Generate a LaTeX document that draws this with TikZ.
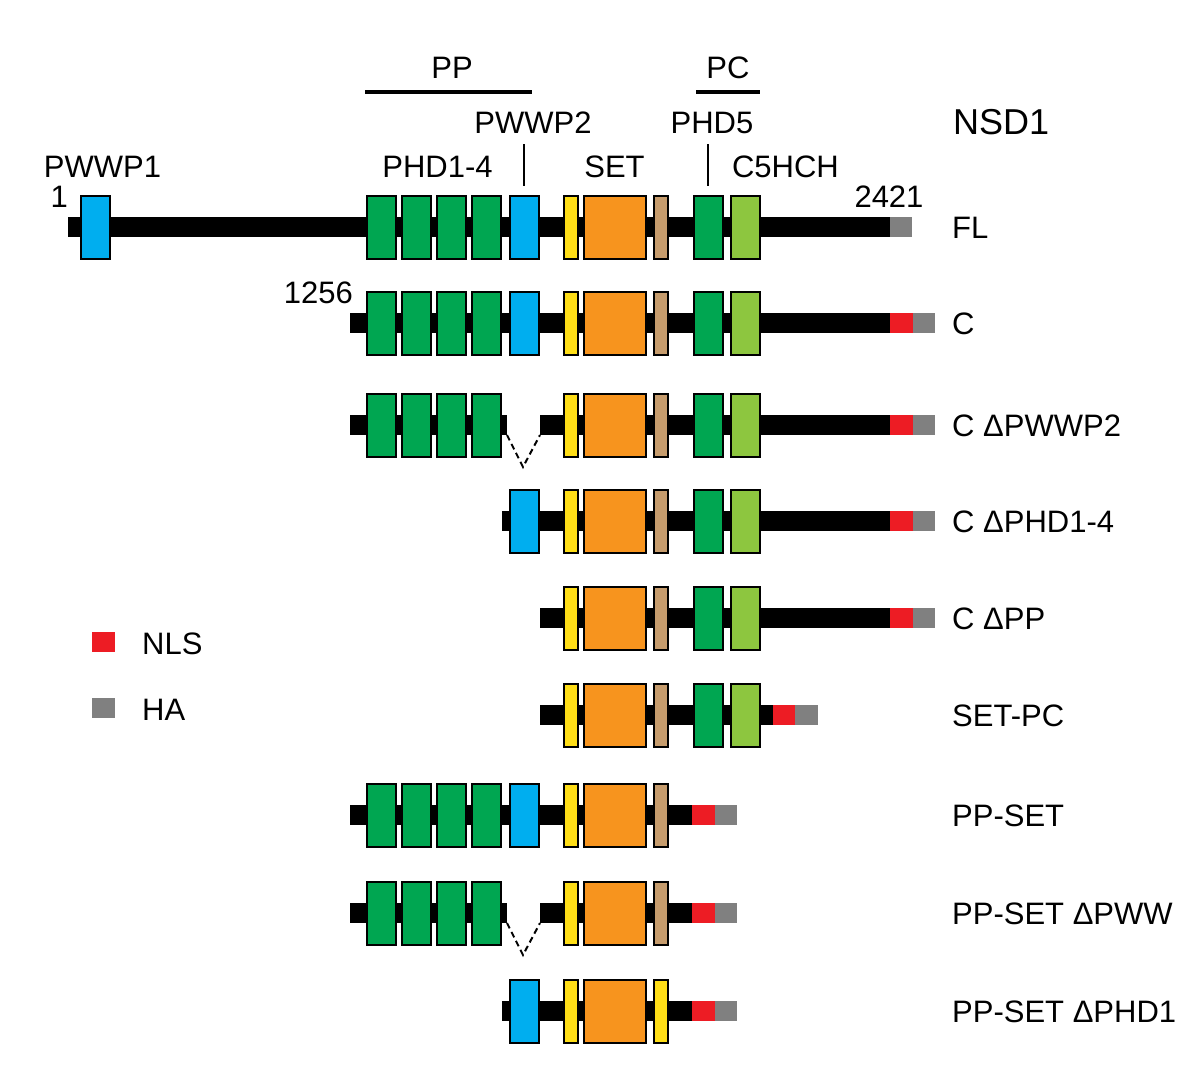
\documentclass[tikz,border=0pt]{standalone}
\usepackage{fontspec}
\setmainfont{Liberation Sans}
\usepackage{tikz}
\usetikzlibrary{positioning,backgrounds}
\usepackage{xcolor}
\definecolor{domgreen}{RGB}{0,166,81}
\definecolor{domblue}{RGB}{0,174,239}
\definecolor{domyellow}{RGB}{255,222,23}
\definecolor{domorange}{RGB}{247,148,30}
\definecolor{domtan}{RGB}{198,156,109}
\definecolor{domlime}{RGB}{141,198,63}
\definecolor{nlsred}{RGB}{237,28,36}
\definecolor{hagray}{RGB}{128,128,128}
\tikzstyle{backbone} = [line width=20pt, black]

\begin{document}
\begin{tikzpicture}[
    x=1pt, y=-1pt,
    every node/.style={font=\fontsize{31}{37}\selectfont, inner sep=0pt},
    dom/.style={rectangle, draw=black, line width=2pt, minimum width=29pt, minimum height=63pt},
    phd/.style={dom, fill=domgreen},
    pwwp/.style={dom, fill=domblue},
    aws/.style={dom, fill=domyellow, minimum width=14pt},
    setdom/.style={dom, fill=domorange, minimum width=62pt},
    postset/.style={dom, fill=domtan, minimum width=14pt},
    cfive/.style={dom, fill=domlime},
    tagbox/.style={rectangle, minimum width=22.5pt, minimum height=20pt},
    nls/.style={tagbox, fill=nlsred},
    ha/.style={tagbox, fill=hagray},
    lbl/.style={anchor=base},
    rowlabel/.style={anchor=base west},
    span/.style={line width=3pt},
    tick/.style={line width=1.5pt},
    gapline/.style={line width=2pt, dash pattern=on 6pt off 4pt}
]
\useasboundingbox (0,0) rectangle (1181,1073);

% Domain labels
\node[lbl] (pplbl) at (452,79) {PP};
\draw[span] (365,92) -- (532,92);
\node[lbl] (pclbl) at (728,79) {PC};
\draw[span] (696,92) -- (760,92);
\node[lbl] (pwwp2lbl) at (533,133) {PWWP2};
\node[lbl] (phd5lbl) at (712,133) {PHD5};
\node[rowlabel, font=\fontsize{36}{42}\selectfont] (nsd1) at (953,134) {NSD1};
\node[lbl] (pwwp1lbl) at (102.5,177) {PWWP1};
\node[lbl] (phdlbl) at (437.5,177) {PHD1-4};
\node[lbl] (setlbl) at (614.5,177) {SET};
\node[lbl] (c5hchlbl) at (785.5,177) {C5HCH};
\draw[tick] (524,144) -- (524,186);
\draw[tick] (708,144) -- (708,186);
\node[lbl, anchor=base east] (first) at (68,207) {1};
\node[lbl] (last) at (889,207) {2421};
\node[lbl, anchor=base east] (cstart) at (353,303) {1256};

% FL
\coordinate (fl-start) at (68,227);
\node[pwwp] (fl-pwwp1) at (95.5,227) {};
\node[phd] (fl-phd1) at (381,227) {};
\node[phd] (fl-phd2) at (416,227) {};
\node[phd] (fl-phd3) at (451,227) {};
\node[phd] (fl-phd4) at (486,227) {};
\node[pwwp] (fl-pwwp2) at (524.5,227) {};
\node[aws] (fl-aws) at (571,227) {};
\node[setdom] (fl-set) at (615,227) {};
\node[postset] (fl-post) at (660.5,227) {};
\node[phd] (fl-phd5) at (708,227) {};
\node[cfive] (fl-c5hch) at (745.5,227) {};
\node[ha] (fl-ha) at (901,227) {};
\node[rowlabel] (fl) at (952,238) {FL};

% C
\coordinate (c-start) at (350,323);
\node[phd] (c-phd1) at (381,323) {};
\node[phd] (c-phd2) at (416,323) {};
\node[phd] (c-phd3) at (451,323) {};
\node[phd] (c-phd4) at (486,323) {};
\node[pwwp] (c-pwwp2) at (524.5,323) {};
\node[aws] (c-aws) at (571,323) {};
\node[setdom] (c-set) at (615,323) {};
\node[postset] (c-post) at (660.5,323) {};
\node[phd] (c-phd5) at (708,323) {};
\node[cfive] (c-c5hch) at (745.5,323) {};
\node[nls] (c-nls) at (901.25,323) {};
\node[ha] (c-ha) at (923.75,323) {};
\node[rowlabel] (c) at (952,334) {C};

% C dPWWP2
\coordinate (cdp-start) at (350,425);
\coordinate (cdp-cutl) at (507,425);
\coordinate (cdp-cutr) at (540,425);
\coordinate (cdp-dip) at (523,467);
\node[phd] (cdp-phd1) at (381,425) {};
\node[phd] (cdp-phd2) at (416,425) {};
\node[phd] (cdp-phd3) at (451,425) {};
\node[phd] (cdp-phd4) at (486,425) {};
\node[aws] (cdp-aws) at (571,425) {};
\node[setdom] (cdp-set) at (615,425) {};
\node[postset] (cdp-post) at (660.5,425) {};
\node[phd] (cdp-phd5) at (708,425) {};
\node[cfive] (cdp-c5hch) at (745.5,425) {};
\node[nls] (cdp-nls) at (901.25,425) {};
\node[ha] (cdp-ha) at (923.75,425) {};
\draw[gapline] ([yshift=-10pt]cdp-cutl) -- (cdp-dip) -- ([yshift=-10pt]cdp-cutr);
\node[rowlabel] (cdp) at (952,436) {C ΔPWWP2};

% C dPHD1-4
\coordinate (cdh-start) at (502,521);
\node[pwwp] (cdh-pwwp2) at (524.5,521) {};
\node[aws] (cdh-aws) at (571,521) {};
\node[setdom] (cdh-set) at (615,521) {};
\node[postset] (cdh-post) at (660.5,521) {};
\node[phd] (cdh-phd5) at (708,521) {};
\node[cfive] (cdh-c5hch) at (745.5,521) {};
\node[nls] (cdh-nls) at (901.25,521) {};
\node[ha] (cdh-ha) at (923.75,521) {};
\node[rowlabel] (cdh) at (952,532) {C ΔPHD1-4};

% C dPP
\coordinate (cpp-start) at (540,618);
\node[aws] (cpp-aws) at (571,618) {};
\node[setdom] (cpp-set) at (615,618) {};
\node[postset] (cpp-post) at (660.5,618) {};
\node[phd] (cpp-phd5) at (708,618) {};
\node[cfive] (cpp-c5hch) at (745.5,618) {};
\node[nls] (cpp-nls) at (901.25,618) {};
\node[ha] (cpp-ha) at (923.75,618) {};
\node[rowlabel] (cpp) at (952,629) {C ΔPP};

% SET-PC
\coordinate (spc-start) at (540,715);
\node[aws] (spc-aws) at (571,715) {};
\node[setdom] (spc-set) at (615,715) {};
\node[postset] (spc-post) at (660.5,715) {};
\node[phd] (spc-phd5) at (708,715) {};
\node[cfive] (spc-c5hch) at (745.5,715) {};
\node[nls] (spc-nls) at (784,715) {};
\node[ha] (spc-ha) at (806.5,715) {};
\node[rowlabel] (spc) at (952,726) {SET-PC};

% PP-SET
\coordinate (pps-start) at (350,815);
\node[phd] (pps-phd1) at (381,815) {};
\node[phd] (pps-phd2) at (416,815) {};
\node[phd] (pps-phd3) at (451,815) {};
\node[phd] (pps-phd4) at (486,815) {};
\node[pwwp] (pps-pwwp2) at (524.5,815) {};
\node[aws] (pps-aws) at (571,815) {};
\node[setdom] (pps-set) at (615,815) {};
\node[postset] (pps-post) at (660.5,815) {};
\node[nls] (pps-nls) at (703.5,815) {};
\node[ha] (pps-ha) at (726,815) {};
\node[rowlabel] (pps) at (952,826) {PP-SET};

% PP-SET dPWW
\coordinate (ppw-start) at (350,913);
\coordinate (ppw-cutl) at (507,913);
\coordinate (ppw-cutr) at (540,913);
\coordinate (ppw-dip) at (523,955);
\node[phd] (ppw-phd1) at (381,913) {};
\node[phd] (ppw-phd2) at (416,913) {};
\node[phd] (ppw-phd3) at (451,913) {};
\node[phd] (ppw-phd4) at (486,913) {};
\node[aws] (ppw-aws) at (571,913) {};
\node[setdom] (ppw-set) at (615,913) {};
\node[postset] (ppw-post) at (660.5,913) {};
\node[nls] (ppw-nls) at (703.5,913) {};
\node[ha] (ppw-ha) at (726,913) {};
\draw[gapline] ([yshift=-10pt]ppw-cutl) -- (ppw-dip) -- ([yshift=-10pt]ppw-cutr);
\node[rowlabel] (ppw) at (952,924) {PP-SET ΔPWW};

% PP-SET dPHD1
\coordinate (pph-start) at (502,1011);
\node[pwwp] (pph-pwwp2) at (524.5,1011) {};
\node[aws] (pph-aws) at (571,1011) {};
\node[setdom] (pph-set) at (615,1011) {};
\node[aws] (pph-aws2) at (660.5,1011) {};
\node[nls] (pph-nls) at (703.5,1011) {};
\node[ha] (pph-ha) at (726,1011) {};
\node[rowlabel] (pph) at (952,1022) {PP-SET ΔPHD1};

% Backbones
\begin{pgfonlayer}{background}
\draw[backbone] (fl-start) -- (fl-ha.west);
\draw[backbone] (c-start) -- (c-nls.west);
\draw[backbone] (cdp-start) -- (cdp-cutl);
\draw[backbone] (cdp-cutr) -- (cdp-nls.west);
\draw[backbone] (cdh-start) -- (cdh-nls.west);
\draw[backbone] (cpp-start) -- (cpp-nls.west);
\draw[backbone] (spc-start) -- (spc-nls.west);
\draw[backbone] (pps-start) -- (pps-nls.west);
\draw[backbone] (ppw-start) -- (ppw-cutl);
\draw[backbone] (ppw-cutr) -- (ppw-nls.west);
\draw[backbone] (pph-start) -- (pph-nls.west);
\end{pgfonlayer}

% Legend
\node[nls, minimum width=23pt, minimum height=20pt] (key-nls) at (103.5,642) {};
\node[rowlabel] (key-nlslbl) at (142,654) {NLS};
\node[ha, minimum width=23pt, minimum height=20pt] (key-ha) at (103.5,707.5) {};
\node[rowlabel] (key-halbl) at (142,720) {HA};

\end{tikzpicture}
\end{document}
